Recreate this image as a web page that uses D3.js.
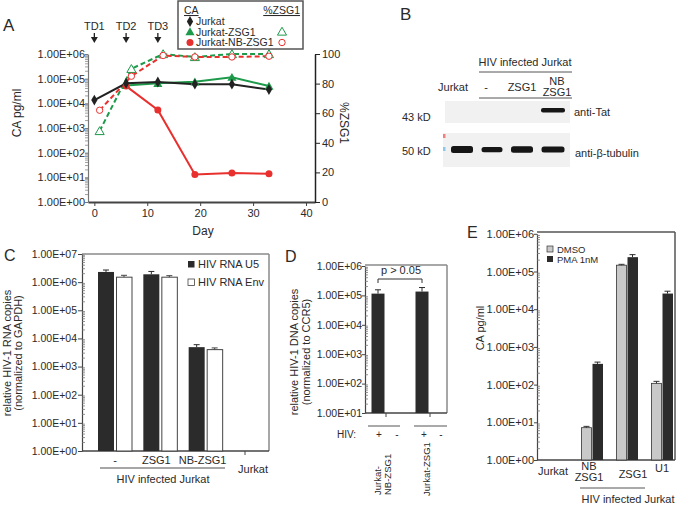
<!DOCTYPE html>
<html><head><meta charset="utf-8">
<script src="https://cdn.jsdelivr.net/npm/d3@7"></script>
<style>body{margin:0;background:#fff}svg{display:block}</style>
</head><body><svg id="c" width="680" height="506"></svg>
<script>
// ---------- DATA ----------
// Panel A
const daysCA = [0, 6, 12, 19, 26, 33];
const caJurkat = [1.35e4, 6.5e4, 7.3e4, 6.0e4, 6.0e4, 3.6e4];
const caZSG1 = [null, 5.3e4, 6.5e4, 7.5e4, 1.15e5, 5.0e4];
const caNBZSG1 = [null, 5.0e4, 5.4e3, 13, 15, 14];
const daysPct = [1, 7, 13, 19, 26, 33];
const pctZSG1 = [48, 90, 100, 98, 100, 100];
const pctNBZSG1 = [62, 85, 99, 98, 98, 98.5];
const tdDays = [0, 6, 12];
const tdLabels = ["TD1", "TD2", "TD3"];
const dayTicks = [0, 10, 20, 30, 40];
const pctTicks = [0, 20, 40, 60, 80, 100];
const logLabels = ["1.00E+00","1.00E+01","1.00E+02","1.00E+03","1.00E+04","1.00E+05","1.00E+06","1.00E+07"];
const legendA = ["Jurkat", "Jurkat-ZSG1", "Jurkat-NB-ZSG1"];

// Panel B (western blot)
const blotLanes = ["Jurkat", "-", "ZSG1", "NB ZSG1"];
const tatBand = [0, 0, 0, 1];
const tubulinBand = [1.0, 0.75, 0.9, 0.85];

// Panel C
const cCats = ["-", "ZSG1", "NB-ZSG1", "Jurkat"];
const cU5 = [2.3e6, 1.9e6, 4.9e3, null];
const cU5Hi = [2.7e6, 2.4e6, 6.0e3, null];
const cEnv = [1.5e6, 1.5e6, 4.0e3, null];
const cEnvHi = [1.75e6, 1.7e6, 4.6e3, null];
const cSeries = ["HIV RNA U5", "HIV RNA Env"];

// Panel D
const dCats = ["Jurkat-NB-ZSG1", "Jurkat-ZSG1"];
const dVals = [1.15e5, 1.35e5];
const dHi = [1.55e5, 1.85e5];

// Panel E
const eCats = ["Jurkat", "NB ZSG1", "ZSG1", "U1"];
const eDMSO = [null, 7.2, 1.47e5, 108];
const eDMSOHi = [null, 7.8, 1.55e5, 122];
const ePMA = [null, 355, 2.4e5, 2.6e4];
const ePMAHi = [null, 395, 2.8e5, 3.0e4];
const eSeries = ["DMSO", "PMA 1nM"];

// ---------- HELPERS ----------
const FONT = '"Liberation Sans", Arial, Helvetica, sans-serif';
const INK = "#2a2a2a";
const svg = d3.select("#c").attr("font-family", FONT);

function txt(g, x, y, s, size, anchor, opts) {
  opts = opts || {};
  const t = g.append("text").attr("x", x).attr("y", y).text(s)
    .attr("font-size", size).attr("text-anchor", anchor || "start")
    .attr("fill", opts.fill || INK);
  if (opts.rotate) t.attr("transform", `rotate(${opts.rotate},${x},${y})`);
  if (opts.underline) t.attr("text-decoration", "underline");
  return t;
}
function line(g, x1, y1, x2, y2, color, w) {
  return g.append("line").attr("x1", x1).attr("y1", y1).attr("x2", x2).attr("y2", y2)
    .attr("stroke", color).attr("stroke-width", w);
}
function minor(g, scale, x, dir, len, lo, hi, color) {
  for (let k = lo; k < hi; k++) for (let m = 2; m <= 9; m++) {
    const y = scale(m * Math.pow(10, k));
    line(g, x, y, x + dir * len, y, color, 0.8);
  }
}
function logAxis(g, scale, x, lo, hi, size, pad, fontSize, color) {
  const vals = d3.range(lo, hi + 1).map(k => Math.pow(10, k));
  const ax = d3.axisLeft(scale).tickValues(vals).tickFormat((d, i) => logLabels[lo + i])
    .tickSize(size).tickSizeOuter(0).tickPadding(pad);
  const a = g.append("g").attr("transform", `translate(${x},0)`).call(ax)
    .attr("font-family", FONT);
  a.select(".domain").attr("stroke", color).attr("stroke-width", 1.2);
  a.selectAll(".tick line").attr("stroke", color);
  a.selectAll("text").attr("font-size", fontSize).attr("fill", INK);
  return a;
}
function errBar(g, x, y1, y2, color) {
  line(g, x, y1, x, y2, color, 1);
  line(g, x - 3, y2, x + 3, y2, color, 1);
}

// ---------- PANEL A ----------
const gA = svg.append("g");
const xA = d3.scaleLinear().domain([-1.2, 41.7]).range([88, 315]);
const yA = d3.scaleLog().domain([1, 1e6]).range([202, 54]);
const yP = d3.scaleLinear().domain([0, 100]).range([202, 54]);
const GREEN = "#1d9a4a", RED = "#e8302e", BLACK = "#222";

txt(gA, 3, 31, "A", 17);
logAxis(gA, yA, 88, 0, 6, 3, 0, 11, "#777");
minor(gA, yA, 88, -1, 3, 0, 6, "#888");
const axB = gA.append("g").attr("transform", "translate(0,202)")
  .call(d3.axisBottom(xA).tickValues(dayTicks).tickSize(4).tickSizeOuter(0).tickPadding(3))
  .attr("font-family", FONT);
axB.select(".domain").attr("stroke", "#444").attr("stroke-width", 2);
axB.selectAll(".tick line").attr("stroke", "#444");
axB.selectAll("text").attr("font-size", 11).attr("fill", INK);
const axR = gA.append("g").attr("transform", "translate(315,0)")
  .call(d3.axisRight(yP).tickValues(pctTicks).tickSize(5).tickSizeOuter(0).tickPadding(2))
  .attr("font-family", FONT);
axR.select(".domain").attr("stroke", "#222").attr("stroke-width", 1.5);
axR.selectAll(".tick line").attr("stroke", "#222");
axR.selectAll("text").attr("font-size", 11).attr("fill", INK);
txt(gA, 203, 235, "Day", 12, "middle");
txt(gA, 21, 113, "CA pg/ml", 12, "middle", {rotate: -90});
txt(gA, 340, 123, "%ZSG1", 12, "middle", {rotate: 90});

tdDays.forEach((d, i) => {
  const x = xA(d);
  txt(gA, x, 30, tdLabels[i], 11, "middle");
  line(gA, x, 33, x, 38, "#222", 1.3);
  gA.append("path").attr("d", `M${x - 3.5},37 L${x + 3.5},37 L${x},43 Z`).attr("fill", "#222");
});

function series(xs, ys, xsc, ysc) {
  return xs.map((d, i) => ({x: xsc(d), y: ys[i] == null ? null : ysc(ys[i])})).filter(p => p.y != null);
}
const lg = d3.line().x(p => p.x).y(p => p.y);
// dashed %ZSG1
const pZ = series(daysPct, pctZSG1, xA, yP), pN = series(daysPct, pctNBZSG1, xA, yP);
gA.append("path").attr("d", lg(pZ)).attr("fill", "none").attr("stroke", GREEN).attr("stroke-width", 2).attr("stroke-dasharray", "5,3");
gA.append("path").attr("d", lg(pN)).attr("fill", "none").attr("stroke", RED).attr("stroke-width", 2).attr("stroke-dasharray", "5,3");
// solid CA lines
const sZ = series(daysCA, caZSG1, xA, yA), sN = series(daysCA, caNBZSG1, xA, yA), sJ = series(daysCA, caJurkat, xA, yA);
gA.append("path").attr("d", lg(sZ)).attr("fill", "none").attr("stroke", GREEN).attr("stroke-width", 2);
gA.append("path").attr("d", lg(sN)).attr("fill", "none").attr("stroke", RED).attr("stroke-width", 2);
gA.append("path").attr("d", lg(sJ)).attr("fill", "none").attr("stroke", BLACK).attr("stroke-width", 2);
const tri = d3.symbol().type(d3.symbolTriangle).size(36);
const dia = d3.symbol().type(d3.symbolDiamond).size(34);
pZ.forEach(p => gA.append("path").attr("d", tri()).attr("transform", `translate(${p.x},${p.y + 1})`).attr("fill", "#fff").attr("stroke", GREEN).attr("stroke-width", 1));
pN.forEach(p => gA.append("circle").attr("cx", p.x).attr("cy", p.y).attr("r", 3.2).attr("fill", "#fff").attr("stroke", RED).attr("stroke-width", 1));
sZ.forEach(p => gA.append("path").attr("d", tri()).attr("transform", `translate(${p.x},${p.y + 1})`).attr("fill", GREEN));
sN.forEach(p => gA.append("circle").attr("cx", p.x).attr("cy", p.y).attr("r", 3.5).attr("fill", RED));
sJ.forEach(p => gA.append("path").attr("d", dia()).attr("transform", `translate(${p.x},${p.y})`).attr("fill", BLACK));

// legend A
gA.append("rect").attr("x", 178).attr("y", 1).attr("width", 125).attr("height", 48).attr("fill", "#fff").attr("stroke", "#555").attr("stroke-width", 1.5);
txt(gA, 184, 14, "CA", 10.5, "start", {underline: true});
txt(gA, 300, 14, "%ZSG1", 10.5, "end", {underline: true});
const legY = [25, 35.5, 46];
legendA.forEach((s, i) => txt(gA, 196, legY[i], s, 10.5));
gA.append("path").attr("d", dia()).attr("transform", `translate(190,${legY[0] - 3.5})`).attr("fill", BLACK);
gA.append("path").attr("d", tri()).attr("transform", `translate(190,${legY[1] - 3})`).attr("fill", GREEN);
gA.append("circle").attr("cx", 190).attr("cy", legY[2] - 3.5).attr("r", 3.5).attr("fill", RED);
gA.append("path").attr("d", tri()).attr("transform", `translate(282,${legY[1] - 3})`).attr("fill", "#fff").attr("stroke", GREEN);
gA.append("circle").attr("cx", 282).attr("cy", legY[2] - 3.5).attr("r", 3.2).attr("fill", "#fff").attr("stroke", RED);

// ---------- PANEL B ----------
const gB = svg.append("g");
txt(gB, 400, 20, "B", 17);
txt(gB, 525, 66, "HIV infected Jurkat", 11, "middle");
line(gB, 479, 72, 572, 72, "#555", 1);
txt(gB, 453, 91, "Jurkat", 11, "middle");
txt(gB, 486, 91, "-", 11, "middle");
txt(gB, 522, 91, "ZSG1", 11, "middle");
txt(gB, 557, 85, "NB", 11, "middle");
txt(gB, 557, 96, "ZSG1", 11, "middle");
line(gB, 479, 98, 572, 98, "#555", 1);
const defs = svg.append("defs");
defs.append("filter").attr("id", "blur").append("feGaussianBlur").attr("stdDeviation", 0.7);
gB.append("rect").attr("x", 445).attr("y", 101).attr("width", 125).attr("height", 22).attr("fill", "#f1f1f1");
gB.append("rect").attr("x", 443).attr("y", 133).attr("width", 127).attr("height", 34).attr("fill", "#f1f1f1");
gB.append("rect").attr("x", 443).attr("y", 134).attr("width", 2.5).attr("height", 4).attr("fill", "#f08080");
gB.append("rect").attr("x", 443).attr("y", 147).attr("width", 2.5).attr("height", 4).attr("fill", "#8cc8ea");
const laneX = [462, 492, 522, 553];
const laneW = [22, 21, 22, 23];
blotLanes.forEach((l, i) => {
  const cx = laneX[i];
  if (tatBand[i] > 0) gB.append("rect").attr("x", cx - 12).attr("y", 108).attr("width", 24).attr("height", 4.5).attr("rx", 2).attr("fill", "#151515").attr("filter", "url(#blur)");
  const h = 7 * tubulinBand[i];
  gB.append("rect").attr("x", cx - laneW[i] / 2).attr("y", 149.5 - h / 2).attr("width", laneW[i]).attr("height", h).attr("rx", 2.5).attr("fill", "#151515").attr("filter", "url(#blur)");
});
txt(gB, 402, 121, "43 kD", 11);
txt(gB, 402, 155, "50 kD", 11);
txt(gB, 574, 116, "anti-Tat", 11);
txt(gB, 575, 157, "anti-β-tubulin", 11);

// ---------- PANEL C ----------
const gC = svg.append("g");
txt(gC, 4, 261, "C", 16);
const yC = d3.scaleLog().domain([1, 1e7]).range([451, 254]);
const xC = d3.scalePoint().domain(cCats).range([115, 251]);
line(gC, 82, 254, 269, 254, "#8a8a8a", 1.5);
line(gC, 269, 254, 269, 451, "#8a8a8a", 1.5);
line(gC, 82, 451, 269, 451, "#444", 1.3);
logAxis(gC, yC, 82, 0, 7, 4, 1, 10.5, "#444");
minor(gC, yC, 82, 1, 3, 0, 7, "#777");
cCats.forEach((c, i) => {
  const cx = xC(c);
  if (cU5[i] != null) {
    gC.append("rect").attr("x", cx - 17).attr("y", yC(cU5[i])).attr("width", 16).attr("height", 451 - yC(cU5[i])).attr("fill", "#2b2b2b");
    errBar(gC, cx - 9, yC(cU5[i]), yC(cU5Hi[i]), "#2b2b2b");
  }
  if (cEnv[i] != null) {
    gC.append("rect").attr("x", cx + 1.5).attr("y", yC(cEnv[i])).attr("width", 15.5).attr("height", 451 - yC(cEnv[i])).attr("fill", "#fff").attr("stroke", "#444").attr("stroke-width", 1);
    errBar(gC, cx + 9, yC(cEnv[i]), yC(cEnvHi[i]), "#444");
  }
});
line(gC, 245, 451, 245, 455, "#444", 1);
txt(gC, xC("-"), 464, "-", 11, "middle");
txt(gC, xC("ZSG1") - 4, 464, "ZSG1", 11, "middle");
txt(gC, xC("NB-ZSG1") - 3, 464, "NB-ZSG1", 11, "middle");
txt(gC, xC("Jurkat") + 2, 473, "Jurkat", 11, "middle");
line(gC, 100, 468, 225, 468, "#888", 1.3);
txt(gC, 163, 483, "HIV infected Jurkat", 11, "middle");
txt(gC, 11, 353, "relative HIV-1 RNA copies", 11, "middle", {rotate: -90});
txt(gC, 22, 353, "(normalized to GAPDH)", 11, "middle", {rotate: -90});
gC.append("rect").attr("x", 188).attr("y", 261).attr("width", 6.5).attr("height", 6.5).attr("fill", "#2b2b2b");
gC.append("rect").attr("x", 188).attr("y", 279).attr("width", 6.5).attr("height", 6.5).attr("fill", "#fff").attr("stroke", "#444").attr("stroke-width", 0.8);
txt(gC, 198, 268, cSeries[0], 11);
txt(gC, 198, 286, cSeries[1], 11);

// ---------- PANEL D ----------
const gD = svg.append("g");
txt(gD, 285, 262, "D", 16);
const yD = d3.scaleLog().domain([10, 1e6]).range([413, 266]);
const xD = d3.scalePoint().domain(dCats).range([378, 422]);
line(gD, 365, 265, 447, 265, "#8a8a8a", 1.5);
line(gD, 447, 265, 447, 413, "#8a8a8a", 1.5);
line(gD, 365, 413, 447, 413, "#444", 1.3);
logAxis(gD, yD, 365, 1, 6, 3, 0, 10.5, "#444");
minor(gD, yD, 365, 1, 3, 1, 6, "#777");
dCats.forEach((c, i) => {
  const cx = xD(c);
  gD.append("rect").attr("x", cx - 6.5).attr("y", yD(dVals[i])).attr("width", 13).attr("height", 413 - yD(dVals[i])).attr("fill", "#2b2b2b");
  errBar(gD, cx, yD(dVals[i]), yD(dHi[i]), "#2b2b2b");
  line(gD, cx + 8, 413, cx + 8, 417, "#444", 1);
});
txt(gD, 401, 274, "p > 0.05", 11, "middle");
gD.append("path").attr("d", "M378,283 L378,279 L422,279 L422,283").attr("fill", "none").attr("stroke", "#333").attr("stroke-width", 1);
txt(gD, 356, 438, "HIV:", 10, "end");
line(gD, 368, 426, 400, 426, "#555", 1);
line(gD, 414, 426, 447, 426, "#555", 1);
txt(gD, xD(dCats[0]) + 1, 438, "+", 10, "middle");
txt(gD, xD(dCats[0]) + 19, 438, "-", 10, "middle");
txt(gD, xD(dCats[1]) + 2, 438, "+", 10, "middle");
txt(gD, xD(dCats[1]) + 19, 438, "-", 10, "middle");
txt(gD, 381, 495, "Jurkat-", 9.5, "start", {rotate: -90});
txt(gD, 391, 495, "NB-ZSG1", 9.5, "start", {rotate: -90});
txt(gD, 430, 496, "Jurkat-ZSG1", 9.5, "start", {rotate: -90});
txt(gD, 298, 352, "relative HIV-1 DNA copies", 11, "middle", {rotate: -90});
txt(gD, 310, 352, "(normalized to CCR5)", 11, "middle", {rotate: -90});

// ---------- PANEL E ----------
const gE = svg.append("g");
txt(gE, 467, 238, "E", 16);
const yE = d3.scaleLog().domain([1, 1e6]).range([460, 233.8]);
const xE = d3.scalePoint().domain(eCats).range([557, 662]);
line(gE, 537, 232, 675, 232, "#555", 1.5);
line(gE, 675, 232, 675, 460, "#555", 1.5);
line(gE, 537, 460, 675, 460, "#444", 1.3);
logAxis(gE, yE, 537, 0, 6, 3, 0, 11, "#444");
minor(gE, yE, 537, 1, 3, 0, 6, "#777");
eCats.forEach((c, i) => {
  const cx = xE(c);
  if (eDMSO[i] != null) {
    gE.append("rect").attr("x", cx - 10.5).attr("y", yE(eDMSO[i])).attr("width", 10).attr("height", 460 - yE(eDMSO[i])).attr("fill", "#c9c9c9").attr("stroke", "#333").attr("stroke-width", 0.8);
    errBar(gE, cx - 5.5, yE(eDMSO[i]), yE(eDMSOHi[i]), "#333");
  }
  if (ePMA[i] != null) {
    gE.append("rect").attr("x", cx + 0.5).attr("y", yE(ePMA[i])).attr("width", 10.5).attr("height", 460 - yE(ePMA[i])).attr("fill", "#2b2b2b");
    errBar(gE, cx + 5.5, yE(ePMA[i]), yE(ePMAHi[i]), "#2b2b2b");
  }
});
gE.append("rect").attr("x", 547).attr("y", 246).attr("width", 6).attr("height", 6).attr("fill", "#c9c9c9").attr("stroke", "#333").attr("stroke-width", 0.7);
gE.append("rect").attr("x", 547).attr("y", 256).attr("width", 6).attr("height", 6).attr("fill", "#2b2b2b");
txt(gE, 557, 252.5, eSeries[0], 9.5);
txt(gE, 557, 262.5, eSeries[1], 9.5);
txt(gE, 553, 475, "Jurkat", 11, "middle");
txt(gE, 589, 470, "NB", 11, "middle");
txt(gE, 589, 481, "ZSG1", 11, "middle");
txt(gE, 633, 478, "ZSG1", 11, "middle");
txt(gE, 662, 472, "U1", 11, "middle");
line(gE, 580, 488, 645, 488, "#555", 1);
txt(gE, 628, 503, "HIV infected Jurkat", 11, "middle");
txt(gE, 484, 328, "CA pg/ml", 11, "middle", {rotate: -90});
</script></body></html>
